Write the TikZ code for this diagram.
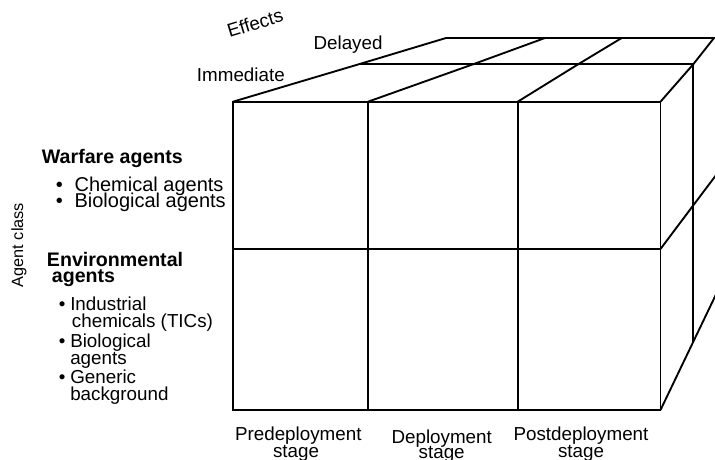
\documentclass[tikz,border=0pt]{standalone}
\usepackage{fontspec}
\setmainfont{Liberation Sans}
\begin{document}
\begin{tikzpicture}[x=0.75pt,y=-0.75pt,
  edge/.style={line width=1.4pt},
  txt/.style={font=\fontsize{14.1}{16}\selectfont, inner sep=0pt, anchor=base west},
  bigtxt/.style={font=\fontsize{15}{17}\selectfont, inner sep=0pt, anchor=base west},
  ctxt/.style={font=\fontsize{14.1}{16}\selectfont, inner sep=0pt, anchor=base},
  head/.style={font=\fontsize{14.7}{16}\selectfont\bfseries, inner sep=0pt, anchor=base west}]
\useasboundingbox (0,0) rectangle (715,460);
\clip (0,0) rectangle (715,460);

% front face corners and grid points
\coordinate (f0t) at (233,101.7);   \coordinate (f0m) at (233,249);   \coordinate (f0b) at (233,410);
\coordinate (f1t) at (368,101.7);   \coordinate (f1b) at (368,410);
\coordinate (f2t) at (517.7,101.7); \coordinate (f2b) at (517.7,410);
\coordinate (f3t) at (660.5,101.7); \coordinate (f3m) at (660.5,249); \coordinate (f3b) at (660.5,410);
% middle depth (between Immediate and Delayed)
\coordinate (m0) at (359,64.2);   \coordinate (m1) at (473.3,64.2);
\coordinate (m2) at (578.3,64.2); \coordinate (m3) at (693.3,64.2);
\coordinate (m3m) at (693.3,205.3);  \coordinate (m3b) at (693.3,341.7);
% back edge
\coordinate (b0) at (446,38);   \coordinate (b1) at (545,38);
\coordinate (b2) at (621.7,38); \coordinate (b3) at (714,38);
\coordinate (rm) at (722,167.2); \coordinate (rb) at (722,281.9);

% front face
\draw[edge] (f0t) rectangle (f3b);
\draw[edge] (f0m) -- (f3m);
\draw[edge] (f1t) -- (f1b);
\draw[edge] (f2t) -- (f2b);
% top face
\draw[edge] (f0t) -- (m0) -- (b0) -- (b3) -- (m3) -- (f3t);
\draw[edge] (m0) -- (m3);
\draw[edge] (f1t) -- (m1) -- (b1);
\draw[edge] (f2t) -- (m2) -- (b2);
% right face
\draw[edge] (m3) -- (m3b);
\draw[edge] (f3m) -- (m3m) -- (rm);
\draw[edge] (f3b) -- (m3b) -- (rb);

% effects axis
\node[font=\fontsize{14.1}{16}\selectfont, inner sep=0pt, rotate=17] (eff) at (255,23) {Effects};
\node[txt] (del) at (313.3,50) {Delayed};
\node[txt] (imm) at (196.7,81.7) {Immediate};

% agent class axis
\node[font=\fontsize{12.2}{14}\selectfont, inner sep=0pt, rotate=90] (ac) at (19,245) {Agent class};

% warfare agents
\node[head] (wa) at (41.7,164) {Warfare agents};
\node[bigtxt] (wb1) at (55.5,191) {•};
\node[bigtxt] (wa1) at (74.3,191) {Chemical agents};
\node[bigtxt] (wb2) at (55.5,208) {•};
\node[bigtxt] (wa2) at (74.3,208) {Biological agents};

% environmental agents
\node[head] (ea) at (46.7,267) {Environmental};
\node[head] (ea2) at (51.7,282.5) {agents};
\node[txt] (eb1) at (58.5,310) {•};
\node[txt] (e1) at (70,310) {Industrial};
\node[txt] (e1b) at (71.7,327) {chemicals (TICs)};
\node[txt] (eb2) at (58.5,347) {•};
\node[txt] (e2) at (70,347) {Biological};
\node[txt] (e2b) at (70,364) {agents};
\node[txt] (eb3) at (58.5,383) {•};
\node[txt] (e3) at (70,383) {Generic};
\node[txt] (e3b) at (70,400) {background};

% stages
\node[ctxt] (s1) at (298.3,440) {Predeployment};
\node[ctxt] (s1b) at (296,457) {stage};
\node[ctxt] (s2) at (441.7,443.5) {Deployment};
\node[ctxt] (s2b) at (441.7,458) {stage};
\node[ctxt] (s3) at (581,440) {Postdeployment};
\node[ctxt] (s3b) at (581,457) {stage};
\end{tikzpicture}
\end{document}
